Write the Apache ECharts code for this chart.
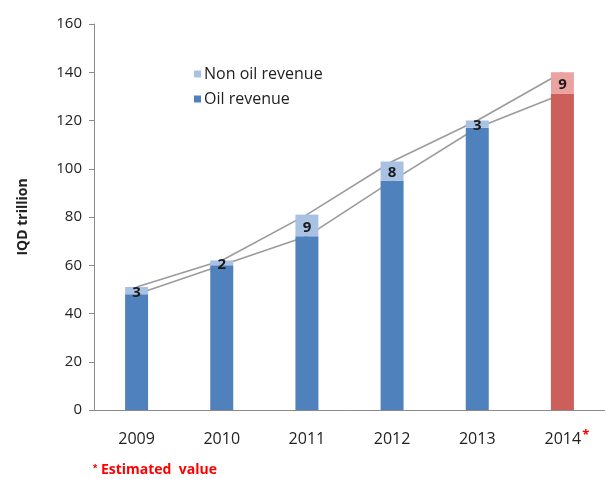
<!DOCTYPE html>
<html>
<head>
<meta charset="utf-8">
<script src="https://cdn.jsdelivr.net/npm/echarts@6/dist/echarts.min.js"></script>
<style>
  html, body { margin: 0; padding: 0; background: #fff; }
  #chart { width: 605px; height: 479px; }
</style>
</head>
<body>
<div id="chart"></div>
<script>
// data (IQD trillion)
const years = ["2009", "2010", "2011", "2012", "2013", "2014"];
const oilRevenue = [48, 60, 72, 95, 117, 131];
const nonOilRevenue = [3, 2, 9, 8, 3, 9];
const estimatedYear = "2014";
const yMin = 0;
const yMax = 160;
const yStep = 20;

const totals = oilRevenue.map((v, i) => v + nonOilRevenue[i]);

const blue = "#4f81bd";
const lightBlue = "#a9c2e3";
const red = "#cd5f5a";
const pink = "#eba3a2";
const font = "Open Sans";

let myChart = echarts.init(document.getElementById("chart"));

myChart.setOption({
  animation: false,
  textStyle: { fontFamily: font },
  grid: { left: 94, top: 24, width: 520, height: 386 },
  legend: {
    data: ["Non oil revenue", "Oil revenue"],
    orient: "vertical",
    left: 189,
    top: 61,
    icon: "rect",
    itemWidth: 7,
    itemHeight: 7,
    itemGap: 9,
    textStyle: { fontSize: 16, color: "#222", fontFamily: font, padding: [0, 0, 0, -2] },
  },
  xAxis: {
    type: "category",
    data: years,
    axisLine: { lineStyle: { color: "#8a8a8a", width: 1 } },
    axisTick: { show: false },
    axisLabel: {
      interval: 0,
      fontSize: 16,
      lineHeight: 20,
      color: "#222",
      margin: 19,
      formatter: (v) => (v === estimatedYear ? "{p|}{y|" + v + "}{s|*}" : "{y|" + v + "}"),
      rich: {
        p: { width: 9, lineHeight: 20 },
        y: { fontSize: 16, lineHeight: 20, color: "#222" },
        s: { color: "#f00", fontSize: 13, fontWeight: "bold", lineHeight: 8, verticalAlign: "top", padding: [0, 0, 0, 1] },
      },
    },
  },
  yAxis: {
    type: "value",
    min: yMin,
    max: yMax,
    interval: yStep,
    name: "IQD trillion",
    nameLocation: "middle",
    nameGap: 64,
    nameTextStyle: { fontSize: 14, fontWeight: "bold", color: "#222" },
    axisLine: { show: true, lineStyle: { color: "#8a8a8a", width: 1 } },
    axisTick: { show: true, length: 5, lineStyle: { color: "#8a8a8a" } },
    splitLine: { show: false },
    axisLabel: { fontSize: 15, color: "#222", margin: 12 },
  },
  series: [
    {
      name: "Oil revenue",
      type: "bar",
      stack: "rev",
      barWidth: 23,
      z: 3,
      itemStyle: { color: blue },
      data: oilRevenue.map((v, i) =>
        years[i] === estimatedYear ? { value: v, itemStyle: { color: red } } : v
      ),
    },
    {
      name: "Non oil revenue",
      type: "bar",
      stack: "rev",
      barWidth: 23,
      z: 3,
      itemStyle: { color: lightBlue },
      label: {
        show: true,
        position: "inside",
        color: "#1a1a1a",
        fontSize: 15,
        fontWeight: "bold",
        offset: [0, 2],
      },
      data: nonOilRevenue.map((v, i) =>
        years[i] === estimatedYear ? { value: v, itemStyle: { color: pink } } : v
      ),
    },
    {
      name: "total line",
      type: "line",
      data: totals,
      symbol: "none",
      z: 1,
      lineStyle: { color: "#9b9b9b", width: 1.6 },
    },
    {
      name: "oil line",
      type: "line",
      data: oilRevenue,
      symbol: "none",
      z: 1,
      lineStyle: { color: "#9b9b9b", width: 1.6 },
    },
  ],
  graphic: [
    {
      type: "text",
      left: 93,
      top: 463,
      style: {
        text: "{s|*} Estimated  value",
        fill: "#f00",
        font: "bold 14px " + font,
        rich: { s: { fill: "#f00", fontSize: 11, fontWeight: "bold", verticalAlign: "top" } },
      },
    },
  ],
});
window.addEventListener("resize", function () {
  myChart.resize();
});
</script>
</body>
</html>
